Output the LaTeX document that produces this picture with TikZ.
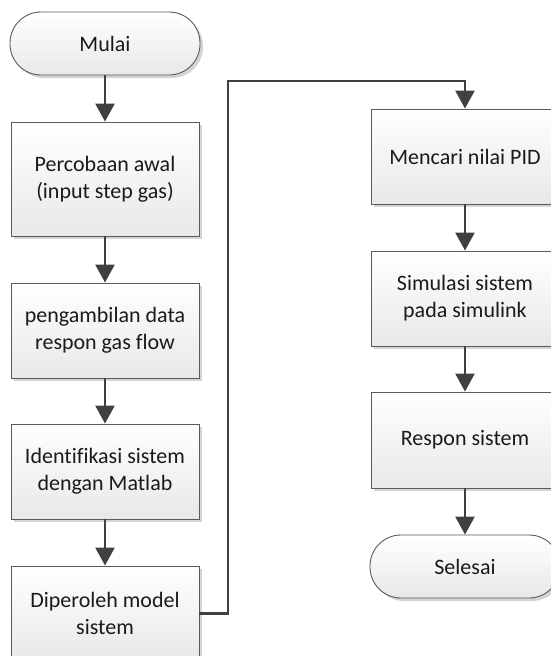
\documentclass[tikz,border=0pt]{standalone}
\usepackage{fontspec}
\setmainfont{Carlito}[Ligatures=NoCommon]
\usetikzlibrary{arrows.meta,shadows}
\definecolor{boxline}{HTML}{5A5A5A}
\definecolor{arrcol}{HTML}{404040}
\definecolor{txt}{HTML}{1A1A1A}
\definecolor{shad}{HTML}{D4D4D4}
\tikzset{
  stepbox/.style={draw=boxline, line width=0.9pt, top color=white, bottom color=black!9,
    minimum width=188pt, minimum height=95pt, inner sep=0pt, align=center,
    text=txt, font=\fontsize{22}{27}\selectfont,
    drop shadow={shadow xshift=3pt, shadow yshift=-3pt, fill=shad, opacity=1}},
  termbox/.style={stepbox, minimum width=190pt, minimum height=63pt, rounded corners=31pt},
  arr/.style={draw=arrcol, line width=2.6pt, -{Triangle[length=18pt,width=19pt]}}
}
\begin{document}
\begin{tikzpicture}[x=1pt,y=-1pt]
\useasboundingbox (0,0) rectangle (551,656);
\node[termbox] (mulai) at (105,43.5) {Mulai};
\node[stepbox, minimum height=114pt] (b1) at (105,179) {Percobaan awal\\(input step gas)};
\node[stepbox] (b2) at (105,330.5) {pengambilan data\\respon gas flow};
\node[stepbox] (b3) at (105,471.5) {Identifikasi sistem\\dengan Matlab};
\node[stepbox] (b4) at (105,613.5) {Diperoleh model\\sistem};
\node[stepbox] (pid) at (465,156.5) {Mencari nilai PID};
\node[stepbox] (sim) at (465,298.5) {Simulasi sistem\\pada simulink};
\node[stepbox, minimum height=96pt] (resp) at (465,440) {Respon sistem};
\node[termbox] (selesai) at (465,566.5) {Selesai};
\coordinate (c1) at (228,81);
\draw[arr] (mulai) -- (b1);
\draw[arr] (b1) -- (b2);
\draw[arr] (b2) -- (b3);
\draw[arr] (b3) -- (b4);
\draw[arr] (b4.east) -| (c1) -| (pid.north);
\draw[arr] (pid) -- (sim);
\draw[arr] (sim) -- (resp);
\draw[arr] (resp) -- (selesai);
\end{tikzpicture}
\end{document}
